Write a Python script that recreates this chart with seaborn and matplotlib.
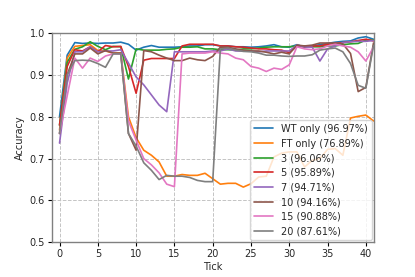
import numpy as np
import pandas as pd
import matplotlib
matplotlib.use("Agg")
import matplotlib.pyplot as plt
import seaborn as sns

ticks = list(range(42))

labels = ["WT only (96.97%)", "FT only (76.89%)", "3 (96.06%)", "5 (95.89%)",
          "7 (94.71%)", "10 (94.16%)", "15 (90.88%)", "20 (87.61%)"]

wt_only = [0.80, 0.947, 0.977, 0.975, 0.976, 0.975, 0.976, 0.976, 0.978, 0.973,
           0.959, 0.966, 0.970, 0.966, 0.966, 0.966, 0.967, 0.969, 0.969, 0.972,
           0.972, 0.969, 0.969, 0.967, 0.967, 0.966, 0.967, 0.969, 0.972, 0.967,
           0.966, 0.972, 0.966, 0.969, 0.972, 0.975, 0.978, 0.980, 0.981, 0.988,
           0.991, 0.985]
ft_only = [0.768, 0.94, 0.968, 0.970, 0.972, 0.958, 0.957, 0.952, 0.952, 0.80,
           0.75, 0.72, 0.708, 0.692, 0.658, 0.658, 0.662, 0.660, 0.660, 0.665,
           0.652, 0.639, 0.641, 0.641, 0.632, 0.640, 0.656, 0.658, 0.704, 0.713,
           0.716, 0.716, 0.680, 0.696, 0.700, 0.722, 0.724, 0.708, 0.797, 0.801,
           0.804, 0.790]
s3 = [0.78, 0.93, 0.961, 0.967, 0.979, 0.968, 0.960, 0.968, 0.967, 0.89,
      0.962, 0.959, 0.959, 0.959, 0.961, 0.962, 0.966, 0.966, 0.967, 0.962,
      0.962, 0.960, 0.960, 0.959, 0.962, 0.962, 0.964, 0.966, 0.967, 0.967,
      0.967, 0.969, 0.969, 0.967, 0.967, 0.969, 0.969, 0.972, 0.974, 0.975,
      0.983, 0.983]
s5 = [0.78, 0.92, 0.960, 0.957, 0.967, 0.955, 0.970, 0.967, 0.968, 0.92,
      0.856, 0.935, 0.939, 0.939, 0.939, 0.939, 0.969, 0.973, 0.973, 0.973,
      0.973, 0.969, 0.969, 0.967, 0.966, 0.964, 0.962, 0.962, 0.960, 0.959,
      0.953, 0.969, 0.967, 0.969, 0.969, 0.973, 0.975, 0.977, 0.979, 0.982,
      0.985, 0.981]
s7 = [0.737, 0.88, 0.955, 0.955, 0.967, 0.955, 0.957, 0.957, 0.960, 0.928,
      0.895, 0.876, 0.852, 0.828, 0.812, 0.955, 0.955, 0.955, 0.955, 0.955,
      0.957, 0.957, 0.962, 0.957, 0.957, 0.957, 0.955, 0.957, 0.957, 0.957,
      0.957, 0.971, 0.967, 0.966, 0.933, 0.962, 0.969, 0.977, 0.979, 0.980,
      0.980, 0.982]
s10 = [0.76, 0.90, 0.950, 0.950, 0.964, 0.950, 0.958, 0.952, 0.952, 0.76,
       0.72, 0.958, 0.955, 0.947, 0.940, 0.934, 0.934, 0.940, 0.936, 0.934,
       0.944, 0.966, 0.966, 0.962, 0.959, 0.957, 0.957, 0.954, 0.950, 0.954,
       0.950, 0.971, 0.969, 0.971, 0.976, 0.976, 0.976, 0.974, 0.951, 0.860,
       0.870, 0.976]
s15 = [0.76, 0.85, 0.940, 0.916, 0.940, 0.932, 0.945, 0.950, 0.950, 0.79,
       0.744, 0.700, 0.685, 0.666, 0.639, 0.633, 0.950, 0.952, 0.952, 0.952,
       0.955, 0.952, 0.950, 0.940, 0.936, 0.920, 0.916, 0.908, 0.916, 0.913,
       0.924, 0.967, 0.962, 0.960, 0.962, 0.969, 0.973, 0.969, 0.966, 0.955,
       0.933, 0.966]
s20 = [0.76, 0.90, 0.934, 0.935, 0.934, 0.927, 0.918, 0.950, 0.950, 0.76,
       0.73, 0.690, 0.672, 0.650, 0.660, 0.658, 0.658, 0.655, 0.648, 0.645,
       0.645, 0.962, 0.964, 0.959, 0.956, 0.955, 0.952, 0.947, 0.947, 0.945,
       0.944, 0.945, 0.945, 0.948, 0.959, 0.962, 0.964, 0.955, 0.927, 0.875,
       0.868, 0.970]

series = [wt_only, ft_only, s3, s5, s7, s10, s15, s20]

rows = []
for lab, vals in zip(labels, series):
    for t, v in zip(ticks, vals):
        rows.append({"Tick": t, "Accuracy": v, "Series": lab})
df = pd.DataFrame(rows)

sns.set_theme(style="whitegrid")
plt.rcParams['font.family'] = ['DejaVu Sans']

fig = plt.figure(figsize=(4.15, 2.77), dpi=100)
ax = fig.add_axes([0.125, 0.125, 0.775, 0.756])

sns.lineplot(data=df, x="Tick", y="Accuracy", hue="Series", hue_order=labels,
             palette=sns.color_palette("tab10", 8), linewidth=1.2, ax=ax)

ax.set_xlim(-1, 41)
ax.set_ylim(0.5, 1.0)
ax.set_xticks(range(0, 41, 5))
ax.set_yticks([0.5, 0.6, 0.7, 0.8, 0.9, 1.0])
ax.set_yticklabels(["0.5", "0.6", "0.7", "0.8", "0.9", "1.0"])
ax.tick_params(labelsize=7, length=3, width=0.8, color="black", pad=2,
               left=True, bottom=True)
ax.set_xlabel("Tick", fontsize=7, labelpad=2)
ax.set_ylabel("Accuracy", fontsize=7, labelpad=3)
ax.grid(True, linestyle="--", color="#c4c4c4", linewidth=0.7)
for s in ax.spines.values():
    s.set_color("#808080")
    s.set_linewidth(1.0)

leg = ax.legend(loc="lower right", fontsize=7, frameon=True, title=None,
                handlelength=2.0, labelspacing=0.48, borderpad=0.4,
                borderaxespad=0.2)
leg.get_frame().set_edgecolor("#cccccc")
leg.get_frame().set_alpha(0.8)

fig.savefig("out.png", dpi=100)
